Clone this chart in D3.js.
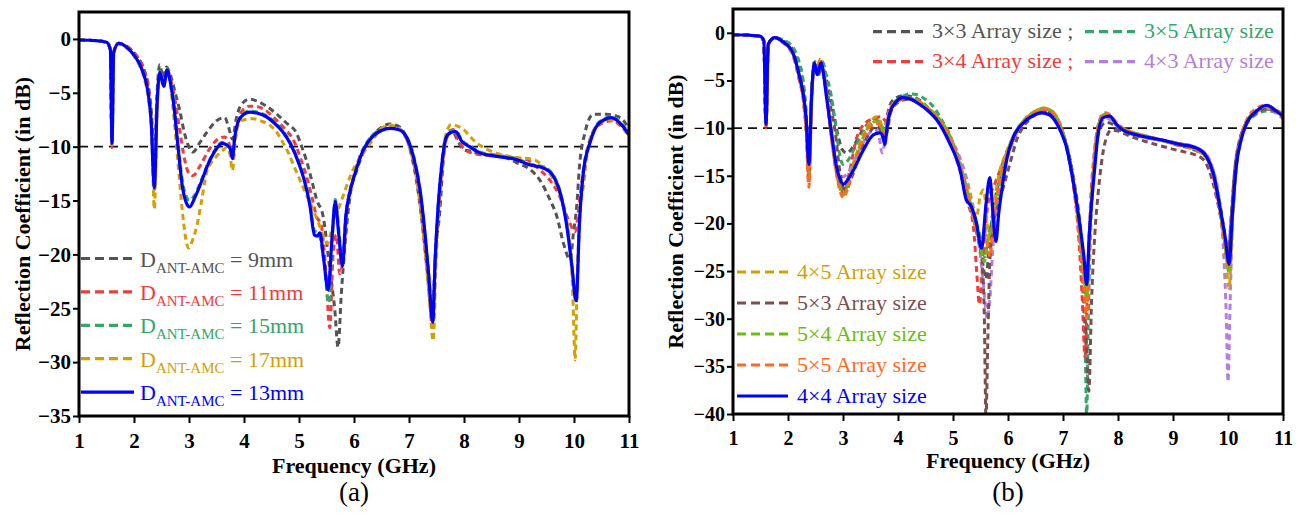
<!DOCTYPE html>
<html>
<head>
<meta charset="utf-8">
<script src="https://cdn.jsdelivr.net/npm/d3@7"></script>
<style>
body { margin: 0; background: #fff; }
svg { display: block; font-family: "Liberation Serif", "Times New Roman", serif; }
</style>
</head>
<body>
<svg id="chart" width="1303" height="517"></svg>
<script>
// ---- shared ticks ----
var xTicks = [1, 2, 3, 4, 5, 6, 7, 8, 9, 10, 11];
var yTicksA = [0, -5, -10, -15, -20, -25, -30, -35];
var yTicksB = [0, -5, -10, -15, -20, -25, -30, -35, -40];

// ---- panel (a): D_ANT-AMC sweep, [GHz, dB] ----
var a9 = [[1.0,-0.1],[1.3,-0.15],[1.5,-0.3],[1.57,-0.9],[1.6,-9.7],[1.63,-1.2],[1.72,-0.4],[1.9,-0.8],[2.05,-1.6],[2.18,-2.8],[2.28,-5],[2.33,-8],[2.37,-13.5],[2.41,-6],[2.47,-2.4],[2.53,-3.6],[2.59,-2.6],[2.66,-3.3],[2.75,-5],[2.83,-6.6],[2.92,-8.8],[2.98,-9.8],[3.07,-10.5],[3.2,-9.6],[3.32,-8.7],[3.5,-7.6],[3.65,-7.3],[3.72,-8.2],[3.79,-9.3],[3.86,-7.4],[3.95,-6.1],[4.1,-5.6],[4.25,-5.8],[4.41,-6.25],[4.6,-7.0],[4.77,-7.8],[4.95,-8.7],[5.05,-10],[5.13,-11.2],[5.25,-13.5],[5.32,-14.9],[5.44,-16.5],[5.56,-21.4],[5.65,-25.1],[5.71,-28.6],[5.77,-23.6],[5.84,-18.9],[5.93,-14.5],[6.05,-12.2],[6.18,-10.4],[6.29,-9.3],[6.45,-8.4],[6.65,-7.9],[6.8,-8.1],[6.9,-8.6],[7.05,-10.9],[7.17,-14.3],[7.26,-18],[7.34,-22],[7.42,-25.8],[7.48,-20],[7.56,-16],[7.62,-11.5],[7.68,-9],[7.8,-8.7],[7.9,-9.6],[8.0,-10.3],[8.11,-10.4],[8.29,-10.7],[8.7,-10.9],[8.96,-11.5],[9.2,-12.1],[9.38,-13.1],[9.56,-14.9],[9.69,-16.5],[9.81,-19],[9.93,-20.5],[9.99,-18],[10.05,-15.5],[10.1,-11.8],[10.2,-8.7],[10.35,-7.0],[10.59,-7.0],[10.84,-7.3],[11.0,-8.4]];
var a11 = [[1.0,-0.1],[1.3,-0.15],[1.5,-0.3],[1.57,-1],[1.6,-10.1],[1.63,-1.3],[1.72,-0.4],[1.9,-0.8],[2.05,-1.6],[2.18,-2.9],[2.27,-5],[2.32,-8],[2.37,-14],[2.42,-6],[2.47,-3.0],[2.54,-4.3],[2.6,-2.8],[2.67,-3.8],[2.75,-5.8],[2.83,-8.4],[2.92,-11.2],[3.0,-12.5],[3.07,-12.7],[3.2,-11.8],[3.35,-10.4],[3.5,-9.4],[3.65,-9.1],[3.72,-9.6],[3.79,-10.5],[3.86,-8.2],[3.95,-6.8],[4.1,-6.25],[4.25,-6.3],[4.41,-6.7],[4.6,-7.6],[4.75,-8.4],[4.9,-9.4],[5.05,-11.4],[5.15,-13],[5.25,-15],[5.32,-16.5],[5.4,-17.2],[5.48,-21],[5.56,-26.8],[5.62,-20],[5.68,-18.2],[5.74,-21.8],[5.8,-20.5],[5.88,-15.5],[5.96,-13.5],[6.1,-11],[6.3,-9.2],[6.5,-8.4],[6.65,-8.1],[6.8,-8.3],[6.9,-8.7],[7.05,-10.7],[7.17,-14],[7.26,-18],[7.35,-22.5],[7.43,-26.8],[7.48,-20],[7.55,-15],[7.62,-11],[7.7,-9],[7.8,-8.4],[7.9,-9.4],[8.0,-10.2],[8.15,-10.6],[8.4,-10.8],[8.8,-11],[9.14,-11.2],[9.3,-11.8],[9.49,-12.7],[9.62,-13.5],[9.73,-14.5],[9.9,-16.8],[10.02,-17.9],[10.1,-15],[10.18,-11.8],[10.3,-9.2],[10.45,-8],[10.7,-7.6],[10.87,-8.2],[11.0,-9.0]];
var a15 = [[1.0,-0.1],[1.3,-0.15],[1.5,-0.3],[1.57,-1],[1.6,-9.8],[1.63,-1.2],[1.72,-0.4],[1.85,-0.7],[2.0,-1.5],[2.15,-2.9],[2.25,-4.8],[2.31,-7.5],[2.37,-14],[2.42,-6],[2.47,-3.0],[2.54,-4.3],[2.6,-2.8],[2.66,-3.9],[2.72,-5.8],[2.8,-9.6],[2.88,-13.2],[2.95,-14.6],[3.01,-15.0],[3.1,-14.5],[3.2,-13.4],[3.35,-11.5],[3.5,-10.1],[3.6,-9.6],[3.7,-9.8],[3.75,-10.1],[3.79,-11.0],[3.83,-9.1],[3.9,-7.5],[4.0,-6.9],[4.1,-6.7],[4.25,-6.8],[4.4,-7.1],[4.55,-7.7],[4.7,-8.5],[4.85,-9.7],[5.0,-11.5],[5.1,-13.1],[5.2,-15.3],[5.28,-17.8],[5.35,-18.0],[5.45,-20.5],[5.54,-24.5],[5.6,-19],[5.66,-14.9],[5.72,-17.5],[5.79,-20.8],[5.85,-16.5],[5.92,-14.2],[6.0,-12.7],[6.17,-10.2],[6.35,-8.9],[6.5,-8.4],[6.65,-8.2],[6.8,-8.3],[6.9,-8.7],[7.0,-9.5],[7.08,-10.8],[7.2,-14],[7.29,-18],[7.36,-22],[7.43,-25.8],[7.48,-20],[7.53,-15.5],[7.6,-11.3],[7.67,-9.1],[7.75,-8.5],[7.85,-8.5],[7.96,-9.4],[8.1,-9.9],[8.3,-10.5],[8.6,-10.8],[8.95,-11.1],[9.2,-11.6],[9.45,-11.9],[9.62,-12.6],[9.75,-14.2],[9.87,-17.3],[9.96,-21],[10.04,-24.5],[10.1,-17],[10.17,-12.3],[10.29,-9.6],[10.41,-8.0],[10.55,-7.4],[10.68,-7.2],[10.87,-7.9],[11.0,-8.8]];
var a17 = [[1.0,-0.1],[1.3,-0.15],[1.5,-0.3],[1.57,-1],[1.6,-9.8],[1.63,-1.3],[1.72,-0.5],[1.9,-1.0],[2.05,-2],[2.17,-3.4],[2.26,-5.5],[2.32,-8.5],[2.37,-15.8],[2.42,-6.5],[2.47,-3.2],[2.54,-4.5],[2.6,-3.0],[2.66,-4.2],[2.72,-7],[2.8,-11.5],[2.87,-15.5],[2.94,-18.5],[2.99,-19.4],[3.07,-18.6],[3.14,-17.4],[3.23,-15],[3.32,-12.4],[3.42,-11.4],[3.5,-10.9],[3.6,-10.4],[3.68,-10.1],[3.74,-10.6],[3.79,-12.2],[3.84,-9.6],[3.9,-7.9],[4.0,-7.5],[4.17,-7.4],[4.3,-7.6],[4.47,-8.0],[4.6,-8.7],[4.71,-9.65],[4.8,-10.5],[4.9,-11.7],[5.07,-13.7],[5.2,-15.2],[5.35,-17],[5.44,-18.3],[5.52,-19],[5.58,-18],[5.65,-16.8],[5.8,-14.6],[5.96,-12.4],[6.17,-10.6],[6.35,-9.3],[6.5,-8.3],[6.65,-8.0],[6.8,-8.2],[6.9,-8.8],[7.05,-10.8],[7.17,-14],[7.27,-18.5],[7.36,-23.5],[7.44,-28],[7.49,-21],[7.55,-15],[7.62,-10.5],[7.7,-8.4],[7.77,-7.95],[7.88,-8.1],[7.99,-8.4],[8.1,-9.0],[8.23,-9.65],[8.4,-10.2],[8.59,-10.6],[8.96,-11.0],[9.26,-11.2],[9.44,-11.8],[9.57,-12.6],[9.69,-13.7],[9.84,-16.3],[9.93,-19.2],[9.98,-24],[10.02,-29.8],[10.06,-22],[10.1,-16.5],[10.17,-13.7],[10.26,-9.96],[10.41,-8.1],[10.55,-7.6],[10.7,-7.5],[10.87,-8.1],[11.0,-9.0]];
var a13 = [[1.0,-0.1],[1.3,-0.15],[1.5,-0.3],[1.57,-1],[1.6,-9.7],[1.63,-1.3],[1.72,-0.4],[1.85,-0.7],[2.0,-1.5],[2.15,-2.9],[2.25,-4.8],[2.31,-7.5],[2.37,-13.8],[2.42,-6],[2.47,-3.1],[2.54,-4.4],[2.6,-2.9],[2.66,-4],[2.72,-6],[2.8,-10],[2.88,-13.7],[2.95,-15.2],[3.01,-15.6],[3.1,-14.8],[3.2,-13.6],[3.35,-11.6],[3.5,-10.2],[3.6,-9.7],[3.7,-9.9],[3.75,-10.2],[3.79,-11.1],[3.83,-9.2],[3.9,-7.6],[4.0,-7.0],[4.1,-6.8],[4.25,-6.9],[4.4,-7.2],[4.55,-7.8],[4.7,-8.6],[4.85,-9.8],[5.0,-11.6],[5.1,-13.2],[5.2,-15.5],[5.28,-18.2],[5.33,-18.3],[5.38,-18.0],[5.45,-20.5],[5.53,-23.3],[5.6,-18.5],[5.66,-15.1],[5.72,-18],[5.79,-21.1],[5.85,-16.5],[5.92,-14.3],[6.0,-12.8],[6.17,-10.3],[6.35,-9.0],[6.5,-8.5],[6.65,-8.3],[6.8,-8.4],[6.9,-8.7],[7.0,-9.6],[7.08,-10.9],[7.2,-14],[7.29,-18],[7.36,-22],[7.43,-26.3],[7.48,-20],[7.53,-15.5],[7.6,-11.5],[7.67,-9.2],[7.75,-8.7],[7.85,-8.6],[7.96,-9.5],[8.1,-10.0],[8.3,-10.6],[8.6,-10.9],[8.95,-11.2],[9.2,-11.7],[9.45,-12.0],[9.62,-12.7],[9.75,-14.3],[9.87,-17.4],[9.96,-21],[10.04,-24.3],[10.1,-17],[10.17,-12.4],[10.29,-9.65],[10.41,-8.1],[10.55,-7.5],[10.68,-7.3],[10.87,-8.0],[11.0,-8.9]];

// ---- panel (b): AMC array size sweep, [GHz, dB] ----
var b33 = [[1.0,-0.2],[1.3,-0.25],[1.49,-0.35],[1.56,-0.9],[1.6,-9.8],[1.64,-1.3],[1.7,-0.7],[1.76,-0.5],[1.9,-0.8],[2.09,-1.8],[2.2,-3.5],[2.28,-5.5],[2.33,-8.5],[2.38,-13.5],[2.43,-6],[2.48,-3.0],[2.54,-4.2],[2.6,-3.0],[2.66,-4.0],[2.72,-5.5],[2.8,-7.5],[2.9,-10.5],[2.98,-12.2],[3.07,-12.6],[3.2,-11.8],[3.35,-10.3],[3.5,-9.3],[3.6,-8.9],[3.68,-9.5],[3.73,-10.5],[3.78,-9.5],[3.85,-7.6],[3.95,-6.9],[4.1,-6.6],[4.25,-6.7],[4.4,-7.1],[4.55,-7.9],[4.7,-8.8],[4.85,-10],[5.0,-11.6],[5.12,-13.5],[5.25,-16.5],[5.38,-19.5],[5.5,-22.5],[5.6,-25.8],[5.66,-22],[5.72,-19],[5.8,-16.5],[5.9,-14.3],[6.0,-12.6],[6.15,-10.5],[6.3,-9.3],[6.5,-8.5],[6.65,-8.2],[6.8,-8.4],[6.9,-9.1],[7.0,-10.5],[7.1,-12.5],[7.2,-15.5],[7.3,-19.5],[7.38,-24],[7.43,-26.5],[7.48,-21],[7.54,-15.5],[7.6,-12],[7.68,-10],[7.78,-9.4],[7.9,-9.6],[8.0,-10.1],[8.2,-10.6],[8.5,-11],[8.8,-11.3],[9.1,-11.8],[9.4,-12.3],[9.6,-13],[9.72,-14.3],[9.84,-17.5],[9.94,-21],[10.0,-23],[10.06,-19.5],[10.12,-14.5],[10.2,-11.5],[10.3,-9.8],[10.45,-8.6],[10.65,-8.0],[10.85,-8.1],[11.0,-8.5]];
var b35 = [[1.0,-0.2],[1.3,-0.25],[1.49,-0.35],[1.56,-0.9],[1.6,-9.7],[1.64,-1.3],[1.7,-0.7],[1.76,-0.5],[1.9,-0.7],[2.09,-1.5],[2.2,-3],[2.28,-5.2],[2.33,-8.5],[2.38,-14.5],[2.43,-6.5],[2.49,-3.0],[2.55,-4.2],[2.62,-3.0],[2.7,-4.5],[2.79,-6.7],[2.86,-9.5],[2.93,-12.5],[3.0,-13.8],[3.1,-13.3],[3.2,-12.2],[3.35,-10.6],[3.5,-9.6],[3.62,-9.2],[3.7,-9.6],[3.76,-10.5],[3.82,-9.0],[3.9,-7.5],[4.05,-6.8],[4.2,-6.4],[4.35,-6.5],[4.5,-7.0],[4.65,-7.8],[4.8,-9.2],[4.95,-10.8],[5.1,-13.5],[5.25,-16.5],[5.38,-19],[5.5,-21.5],[5.58,-23.5],[5.65,-21],[5.72,-19.5],[5.8,-17.5],[5.9,-14.5],[6.0,-12.5],[6.15,-10.5],[6.3,-9.2],[6.5,-8.4],[6.65,-8.0],[6.8,-8.3],[6.9,-9.0],[7.0,-10.5],[7.1,-12.8],[7.2,-16],[7.3,-21],[7.36,-27],[7.41,-35],[7.43,-40.5],[7.46,-30],[7.52,-18],[7.58,-12.5],[7.65,-9.5],[7.75,-8.4],[7.85,-8.8],[7.95,-9.5],[8.1,-10.2],[8.3,-10.7],[8.7,-11.2],[9.1,-11.6],[9.4,-12.0],[9.6,-12.8],[9.72,-14.5],[9.85,-18],[9.95,-22],[10.02,-25],[10.08,-19.5],[10.15,-14],[10.24,-11],[10.35,-9.5],[10.5,-8.6],[10.7,-8.2],[10.85,-8.3],[11.0,-8.6]];
var b34 = [[1.0,-0.2],[1.3,-0.25],[1.49,-0.35],[1.56,-0.9],[1.6,-10],[1.64,-1.3],[1.7,-0.7],[1.76,-0.5],[1.9,-0.9],[2.09,-2.2],[2.2,-4.5],[2.28,-7],[2.33,-10],[2.38,-15.8],[2.43,-7],[2.48,-3.3],[2.53,-4.0],[2.58,-2.8],[2.64,-4],[2.7,-6.5],[2.78,-10.5],[2.86,-14],[2.94,-16],[3.02,-16.8],[3.12,-14.5],[3.25,-11],[3.4,-9.5],[3.55,-9.0],[3.7,-8.8],[3.78,-9.3],[3.85,-7.8],[4.0,-7.1],[4.15,-6.9],[4.3,-7.1],[4.45,-7.6],[4.6,-8.3],[4.75,-9.3],[4.9,-10.8],[5.05,-13],[5.15,-15],[5.25,-17.5],[5.37,-20.3],[5.43,-25],[5.48,-28.5],[5.53,-25],[5.58,-21],[5.65,-17.5],[5.75,-16],[5.85,-14.5],[5.95,-13],[6.1,-11],[6.3,-9.3],[6.5,-8.4],[6.65,-8.0],[6.8,-8.3],[6.9,-9.2],[7.0,-10.8],[7.1,-13],[7.2,-16.5],[7.28,-21],[7.35,-28],[7.4,-34],[7.45,-26],[7.5,-18],[7.57,-12.5],[7.65,-9.5],[7.75,-8.6],[7.85,-8.8],[7.95,-9.5],[8.1,-10.2],[8.3,-10.6],[8.7,-11.1],[9.1,-11.6],[9.4,-12.1],[9.6,-13],[9.72,-14.8],[9.85,-18.5],[9.95,-22],[10.02,-25],[10.08,-19],[10.15,-14],[10.24,-11],[10.35,-9.2],[10.5,-8.3],[10.7,-7.8],[10.85,-8.3],[11.0,-9.0]];
var b43 = [[1.0,-0.2],[1.3,-0.25],[1.49,-0.35],[1.56,-0.9],[1.6,-9.7],[1.64,-1.3],[1.7,-0.7],[1.76,-0.5],[1.9,-0.9],[2.09,-2.1],[2.2,-4.4],[2.28,-6.5],[2.33,-9],[2.38,-14],[2.43,-6.5],[2.48,-3.2],[2.53,-4.4],[2.6,-3.2],[2.65,-4.4],[2.7,-6.4],[2.79,-10.2],[2.88,-13.6],[2.95,-14.9],[3.0,-15.1],[3.1,-14.6],[3.2,-13.5],[3.37,-11.5],[3.5,-10.4],[3.6,-10.2],[3.66,-11],[3.71,-12.6],[3.76,-11.5],[3.82,-8.8],[3.95,-7.3],[4.1,-6.9],[4.25,-7.0],[4.4,-7.4],[4.55,-8.1],[4.7,-8.9],[4.85,-10],[5.0,-11.5],[5.15,-13.5],[5.3,-16.5],[5.42,-20],[5.52,-24.5],[5.58,-28],[5.62,-30],[5.67,-28],[5.72,-23],[5.8,-17.5],[5.9,-14.5],[6.0,-12.8],[6.15,-10.6],[6.3,-9.3],[6.5,-8.5],[6.65,-8.2],[6.8,-8.4],[6.9,-9.2],[7.0,-10.6],[7.1,-12.8],[7.2,-16],[7.3,-20.5],[7.38,-25],[7.43,-27],[7.48,-21],[7.54,-15.5],[7.6,-12],[7.68,-9.6],[7.78,-8.9],[7.9,-9.3],[8.0,-9.9],[8.2,-10.5],[8.5,-11],[8.8,-11.3],[9.1,-11.6],[9.4,-12.0],[9.6,-12.7],[9.72,-14.2],[9.84,-17.5],[9.92,-23],[9.97,-30],[10.0,-36.6],[10.04,-28],[10.08,-20],[10.15,-14],[10.24,-11],[10.35,-9.3],[10.5,-8.4],[10.7,-7.9],[10.85,-8.3],[11.0,-8.8]];
var b45 = [[1.0,-0.2],[1.3,-0.25],[1.49,-0.35],[1.56,-0.9],[1.6,-9.8],[1.64,-1.3],[1.7,-0.7],[1.76,-0.5],[1.9,-0.9],[2.09,-2.2],[2.2,-4.6],[2.28,-6.8],[2.33,-9.5],[2.38,-14.5],[2.43,-6.5],[2.48,-3.2],[2.53,-4.3],[2.59,-3.0],[2.65,-4.2],[2.71,-6.5],[2.79,-10.5],[2.88,-14.2],[2.95,-16.2],[3.01,-16.8],[3.1,-15.5],[3.2,-13.5],[3.35,-11],[3.5,-9.3],[3.6,-8.8],[3.68,-9.3],[3.74,-10.5],[3.8,-9.5],[3.87,-7.8],[4.0,-7.1],[4.15,-6.9],[4.3,-7.0],[4.45,-7.5],[4.6,-8.2],[4.75,-9.1],[4.9,-10.4],[5.05,-12.5],[5.18,-14.8],[5.3,-17],[5.42,-19.5],[5.5,-17],[5.56,-16.5],[5.62,-20],[5.68,-22.5],[5.75,-18],[5.85,-14.5],[5.95,-12.8],[6.1,-10.8],[6.3,-9.1],[6.5,-8.2],[6.65,-7.9],[6.8,-8.2],[6.9,-9.0],[7.0,-10.5],[7.1,-12.8],[7.2,-16],[7.3,-21],[7.38,-26],[7.43,-29],[7.48,-22],[7.54,-15.5],[7.6,-11.5],[7.68,-9.2],[7.78,-8.6],[7.9,-9.1],[8.0,-9.8],[8.2,-10.4],[8.5,-10.9],[8.8,-11.3],[9.1,-11.7],[9.4,-12.2],[9.6,-13],[9.72,-14.6],[9.85,-18.5],[9.95,-23],[10.02,-26.8],[10.08,-20],[10.15,-14.5],[10.24,-11],[10.35,-9.2],[10.5,-8.3],[10.7,-7.9],[10.85,-8.2],[11.0,-8.8]];
var b53 = [[1.0,-0.2],[1.3,-0.25],[1.49,-0.35],[1.56,-0.9],[1.6,-9.8],[1.64,-1.3],[1.7,-0.7],[1.76,-0.5],[1.9,-0.9],[2.09,-2.2],[2.2,-4.3],[2.28,-6.5],[2.33,-9.5],[2.38,-14.8],[2.43,-6.5],[2.49,-3.3],[2.55,-4.5],[2.61,-3.5],[2.67,-5],[2.73,-6.7],[2.8,-8.5],[2.86,-10.5],[2.93,-14],[3.0,-16.2],[3.05,-16.5],[3.15,-15.3],[3.3,-12.8],[3.45,-10.8],[3.6,-9.8],[3.68,-10.2],[3.74,-11.2],[3.8,-10.5],[3.87,-8.3],[4.0,-7.3],[4.15,-7.0],[4.3,-7.1],[4.45,-7.6],[4.6,-8.3],[4.75,-9.3],[4.9,-10.6],[5.05,-12.6],[5.2,-15.5],[5.33,-18.5],[5.45,-21.5],[5.53,-24],[5.57,-30],[5.6,-40.5],[5.63,-33],[5.67,-24],[5.73,-20.3],[5.82,-18],[5.92,-16.1],[6.07,-13],[6.16,-11.2],[6.3,-9.7],[6.5,-8.6],[6.65,-8.3],[6.8,-8.6],[6.92,-9.5],[7.02,-11],[7.12,-13.5],[7.22,-17],[7.3,-21],[7.37,-26],[7.43,-33],[7.47,-37.6],[7.52,-28],[7.58,-21],[7.64,-16.8],[7.76,-11.6],[7.88,-10.2],[8.0,-10.3],[8.2,-10.8],[8.5,-11.4],[8.8,-11.9],[9.13,-12.4],[9.35,-12.7],[9.55,-13.3],[9.68,-14.8],[9.8,-17.5],[9.92,-21],[10.0,-24],[10.06,-19],[10.13,-14],[10.22,-11.2],[10.33,-9.5],[10.5,-8.5],[10.7,-8.0],[10.85,-8.2],[11.0,-8.6]];
var b54 = [[1.0,-0.2],[1.3,-0.25],[1.49,-0.35],[1.56,-0.9],[1.6,-9.9],[1.64,-1.3],[1.7,-0.7],[1.76,-0.5],[1.9,-1.0],[2.09,-2.3],[2.2,-4.8],[2.28,-7],[2.33,-10],[2.38,-15],[2.43,-6.8],[2.48,-3.3],[2.53,-4.3],[2.59,-3.0],[2.65,-4.3],[2.71,-6.7],[2.79,-10.8],[2.88,-14.5],[2.95,-16.4],[3.01,-17.0],[3.1,-15.8],[3.2,-13.8],[3.35,-11.2],[3.5,-9.6],[3.6,-9.3],[3.68,-9.6],[3.74,-10.4],[3.8,-9.6],[3.87,-8],[4.0,-7.1],[4.15,-6.8],[4.3,-6.9],[4.45,-7.4],[4.6,-8.1],[4.75,-9.0],[4.9,-10.3],[5.05,-12.4],[5.18,-14.8],[5.3,-17.5],[5.42,-20.5],[5.5,-22.5],[5.57,-24],[5.63,-22],[5.7,-20.5],[5.78,-18],[5.88,-14.8],[5.98,-12.6],[6.1,-10.8],[6.3,-9.1],[6.5,-8.2],[6.65,-7.9],[6.8,-8.2],[6.9,-9.0],[7.0,-10.5],[7.1,-12.8],[7.2,-16],[7.3,-21],[7.38,-25.5],[7.43,-28],[7.48,-21.5],[7.54,-15.5],[7.6,-11.5],[7.68,-9.1],[7.78,-8.5],[7.9,-9.0],[8.0,-9.7],[8.2,-10.3],[8.5,-10.8],[8.8,-11.3],[9.1,-11.7],[9.4,-12.2],[9.6,-13],[9.72,-14.6],[9.85,-18.5],[9.95,-22.5],[10.02,-25.2],[10.08,-19.5],[10.15,-14.2],[10.24,-11],[10.35,-9.2],[10.5,-8.2],[10.7,-7.7],[10.85,-8.0],[11.0,-8.6]];
var b55 = [[1.0,-0.2],[1.3,-0.25],[1.49,-0.35],[1.56,-0.9],[1.6,-9.9],[1.64,-1.3],[1.7,-0.7],[1.76,-0.5],[1.9,-1.0],[2.09,-2.4],[2.2,-4.9],[2.28,-7.2],[2.33,-10.5],[2.38,-16.2],[2.43,-7],[2.48,-3.3],[2.53,-4.1],[2.58,-2.8],[2.64,-4.2],[2.7,-6.8],[2.79,-11],[2.88,-14.8],[2.95,-16.7],[3.01,-17.3],[3.1,-16],[3.2,-14],[3.35,-11.4],[3.5,-9.8],[3.6,-9.5],[3.68,-9.8],[3.74,-10.6],[3.8,-9.7],[3.87,-8.1],[4.0,-7.2],[4.15,-6.9],[4.3,-7.0],[4.45,-7.5],[4.6,-8.2],[4.75,-9.1],[4.9,-10.4],[5.05,-12.5],[5.18,-15],[5.3,-17.8],[5.42,-20.5],[5.5,-21.5],[5.57,-21],[5.62,-22],[5.67,-23.5],[5.73,-20],[5.8,-17],[5.9,-14.4],[6.0,-12.5],[6.1,-10.9],[6.3,-9.2],[6.5,-8.3],[6.66,-8.0],[6.8,-8.3],[6.9,-9.1],[7.0,-10.6],[7.1,-13],[7.2,-16.3],[7.3,-21.5],[7.38,-27],[7.43,-30],[7.48,-22],[7.54,-15.5],[7.6,-11.4],[7.68,-9.0],[7.78,-8.4],[7.9,-8.9],[8.0,-9.6],[8.2,-10.3],[8.5,-10.8],[8.8,-11.3],[9.1,-11.8],[9.4,-12.3],[9.6,-13.1],[9.72,-14.8],[9.85,-18.8],[9.95,-22.5],[10.02,-24.5],[10.08,-19],[10.15,-14],[10.24,-10.8],[10.35,-9.0],[10.5,-8.0],[10.7,-7.6],[10.85,-8.0],[11.0,-8.7]];
var b44 = [[1.0,-0.2],[1.3,-0.25],[1.49,-0.35],[1.56,-0.8],[1.6,-9.6],[1.64,-1.2],[1.7,-0.7],[1.76,-0.5],[1.9,-0.9],[2.09,-2.1],[2.21,-4.6],[2.28,-6.5],[2.33,-9],[2.38,-13.8],[2.43,-6.5],[2.48,-3.15],[2.53,-4.4],[2.6,-3.15],[2.65,-4.5],[2.7,-6.7],[2.79,-10.5],[2.88,-14],[2.95,-15.4],[3.0,-15.9],[3.1,-15.3],[3.19,-14.4],[3.37,-12.3],[3.55,-10.7],[3.67,-10.5],[3.72,-10.8],[3.76,-11.7],[3.8,-10],[3.85,-8.4],[3.97,-7.2],[4.09,-6.8],[4.25,-7.0],[4.39,-7.5],[4.55,-8.2],[4.7,-9.1],[4.82,-10.2],[4.94,-11.6],[5.05,-13],[5.13,-14.4],[5.24,-17.5],[5.33,-18.2],[5.42,-19.8],[5.52,-22.6],[5.6,-18],[5.67,-15.2],[5.72,-18.5],[5.78,-21.9],[5.83,-19],[5.88,-16.8],[5.98,-13.2],[6.1,-10.9],[6.28,-9.45],[6.45,-8.7],[6.61,-8.4],[6.75,-8.6],[6.88,-9.45],[6.97,-10.5],[7.06,-11.9],[7.18,-15.4],[7.31,-20.3],[7.38,-23.5],[7.43,-26.4],[7.48,-21],[7.54,-16.5],[7.58,-14],[7.64,-10.5],[7.73,-8.9],[7.85,-8.75],[7.97,-9.6],[8.09,-10.2],[8.33,-10.7],[8.76,-11.2],[9.12,-11.7],[9.43,-12.1],[9.61,-13],[9.73,-14.7],[9.85,-18.2],[9.95,-21.5],[10.02,-24.3],[10.08,-19],[10.15,-14],[10.24,-11.2],[10.33,-9.6],[10.52,-8.2],[10.7,-7.6],[10.85,-8.1],[11.0,-8.75]];

// ---- legend labels ----
var namesA = ["9mm", "11mm", "15mm", "17mm", "13mm"];
var namesBTop = [["3\u00d73 Array size ;", "3\u00d75 Array size"], ["3\u00d74 Array size ;", "4\u00d73 Array size"]];
var namesBBottom = ["4\u00d75 Array size", "5\u00d73 Array size", "5\u00d74 Array size", "5\u00d75 Array size", "4\u00d74 Array size"];

var C = {gray: "#545454", red: "#f03c3c", green: "#34a668", gold: "#d4a000", blue: "#0000ff",
         purple: "#b47de0", brown: "#7c4e4e", lime: "#6cbd12", orange: "#ff6a1c"};

var svg = d3.select("#chart");

function drawPanel(p) {
  var x = d3.scaleLinear().domain([1, 11]).range([p.left, p.right]);
  var y = d3.scaleLinear().domain([p.ymin, 2.5]).range([p.bottom, p.top]);
  var g = svg.append("g");

  g.append("clipPath").attr("id", p.id + "clip")
    .append("rect").attr("x", p.left).attr("y", p.top)
    .attr("width", p.right - p.left).attr("height", p.bottom - p.top);

  // -10 dB reference
  g.append("line")
    .attr("x1", x(1)).attr("x2", x(11)).attr("y1", y(-10)).attr("y2", y(-10))
    .attr("stroke", "#111").attr("stroke-width", 1.6).attr("stroke-dasharray", "9,6");

  var line = d3.line().curve(d3.curveMonotoneX)
    .x(function(d) { return x(d[0]); })
    .y(function(d) { return y(d[1]); });

  var curves = g.append("g").attr("clip-path", "url(#" + p.id + "clip)");
  p.series.forEach(function(s) {
    curves.append("path")
      .attr("d", line(s.data))
      .attr("fill", "none")
      .attr("stroke", s.color)
      .attr("stroke-width", s.dash ? 3 : 3.2)
      .attr("stroke-dasharray", s.dash ? "6,4" : null)
      .attr("stroke-linejoin", "round");
  });

  // axes
  var xa = g.append("g").attr("transform", "translate(0," + p.bottom + ")")
    .call(d3.axisBottom(x).tickValues(xTicks).tickSize(7).tickPadding(p.xPad).tickSizeOuter(0));
  var ya = g.append("g").attr("transform", "translate(" + p.left + ",0)")
    .call(d3.axisLeft(y).tickValues(p.yTicks).tickSize(6).tickPadding(p.yPad).tickSizeOuter(0));
  [xa, ya].forEach(function(a) {
    a.select(".domain").remove();
    a.selectAll(".tick line").attr("stroke", "#000").attr("stroke-width", 2);
    a.selectAll(".tick text").attr("fill", "#000")
      .style("font-family", "Liberation Serif").style("font-weight", "bold")
      .style("font-size", p.tickFont + "px");
  });

  g.append("rect")
    .attr("x", p.left).attr("y", p.top)
    .attr("width", p.right - p.left).attr("height", p.bottom - p.top)
    .attr("fill", "none").attr("stroke", "#000").attr("stroke-width", 3);

  g.append("text")
    .attr("x", (p.left + p.right) / 2).attr("y", p.xTitleY)
    .attr("text-anchor", "middle").style("font-weight", "bold").style("font-size", "22px")
    .text("Frequency (GHz)");
  g.append("text")
    .attr("transform", "translate(" + p.yTitleX + "," + ((p.top + p.bottom) / 2) + ") rotate(-90)")
    .attr("text-anchor", "middle").style("font-weight", "bold").style("font-size", "22px")
    .text("Reflection Coefficient (in dB)");
  g.append("text")
    .attr("x", (p.left + p.right) / 2).attr("y", 501)
    .attr("text-anchor", "middle").style("font-size", "27px")
    .text(p.tag);
  return g;
}

function legendLine(g, x1, x2, yy, color, dash) {
  g.append("line").attr("x1", x1).attr("x2", x2).attr("y1", yy).attr("y2", yy)
    .attr("stroke", color).attr("stroke-width", 3.2)
    .attr("stroke-dasharray", dash ? "9,5" : null);
}

// ---- panel (a) ----
var seriesA = [
  {data: a9, color: C.gray, dash: true},
  {data: a11, color: C.red, dash: true},
  {data: a15, color: C.green, dash: true},
  {data: a17, color: C.gold, dash: true},
  {data: a13, color: C.blue, dash: false}
];
var gA = drawPanel({id: "a", left: 79, right: 629, top: 12, bottom: 416, ymin: -35,
  yTicks: yTicksA, series: seriesA, xPad: 10, yPad: 2, tickFont: 21,
  xTitleY: 473, yTitleX: 30, tag: "(a)"});

namesA.forEach(function(n, i) {
  var s = seriesA[i];
  var yy = 258.5 + i * 33.4;
  legendLine(gA, 81, 134, yy, s.color, s.dash);
  var t = gA.append("text").attr("x", 140).attr("y", yy + 8)
    .attr("fill", s.color).style("font-size", "22px");
  t.append("tspan").text("D");
  t.append("tspan").attr("dy", 6).style("font-size", "15px").text("ANT-AMC");
  t.append("tspan").attr("dy", -6).text(" = " + n);
});

// ---- panel (b) ----
var seriesB = [
  {data: b33, color: C.gray, dash: true},
  {data: b35, color: C.green, dash: true},
  {data: b34, color: C.red, dash: true},
  {data: b43, color: C.purple, dash: true},
  {data: b45, color: C.gold, dash: true},
  {data: b53, color: C.brown, dash: true},
  {data: b54, color: C.lime, dash: true},
  {data: b55, color: C.orange, dash: true},
  {data: b44, color: C.blue, dash: false}
];
var gB = drawPanel({id: "b", left: 733, right: 1283, top: 9, bottom: 414, ymin: -40,
  yTicks: yTicksB, series: seriesB, xPad: 10, yPad: 2, tickFont: 20,
  xTitleY: 468, yTitleX: 683, tag: "(b)"});

var topColors = [[C.gray, C.green], [C.red, C.purple]];
namesBTop.forEach(function(row, r) {
  var yy = 31.7 + r * 30;
  row.forEach(function(n, c) {
    var x1 = c === 0 ? 873 : 1085;
    legendLine(gB, x1, x1 + 50, yy, topColors[r][c], true);
    gB.append("text").attr("x", x1 + 59).attr("y", yy + 6.5)
      .attr("fill", topColors[r][c]).style("font-size", "22px").text(n);
  });
});

var bottomSeries = [seriesB[4], seriesB[5], seriesB[6], seriesB[7], seriesB[8]];
namesBBottom.forEach(function(n, i) {
  var s = bottomSeries[i];
  var yy = 272 + i * 31;
  legendLine(gB, 737, 788, yy, s.color, s.dash);
  gB.append("text").attr("x", 797).attr("y", yy + 6.5)
    .attr("fill", s.color).style("font-size", "22px").text(n);
});
</script>
</body>
</html>
